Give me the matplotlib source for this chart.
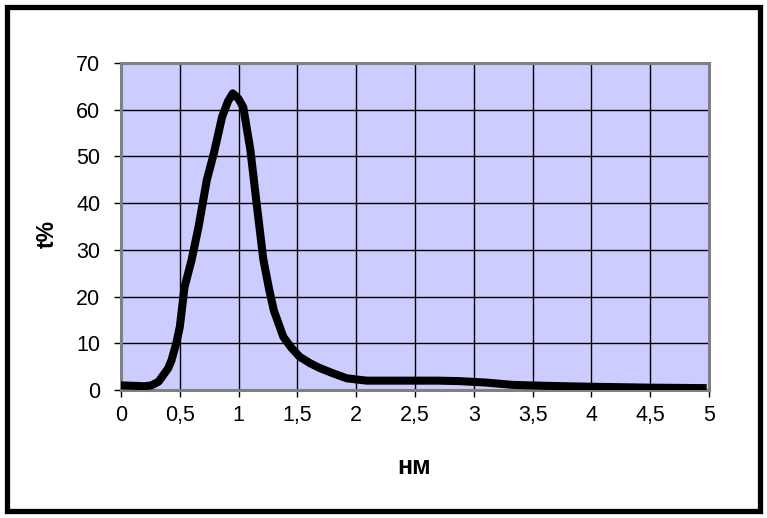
import matplotlib
matplotlib.use("Agg")
import matplotlib.pyplot as plt
from matplotlib.patches import Rectangle
from matplotlib.ticker import MultipleLocator, FuncFormatter

wavelength = [0.0, 0.1, 0.2, 0.26, 0.32, 0.36, 0.40, 0.43, 0.47, 0.50, 0.54, 0.60, 0.66,
              0.73, 0.79, 0.86, 0.91, 0.95, 1.00, 1.04, 1.10, 1.16, 1.21, 1.26, 1.30,
              1.38, 1.45, 1.52, 1.61, 1.69, 1.80, 1.92, 2.09, 2.4, 2.7, 2.88, 3.1,
              3.33, 3.6, 3.99, 4.5, 4.98]
transmission = [1.0, 0.9, 0.8, 1.0, 1.8, 3.2, 4.6, 6.4, 10.0, 13.5, 22.0, 27.8, 35.0,
                45.0, 50.7, 58.5, 61.8, 63.5, 62.3, 60.5, 51.4, 38.5, 28.0, 21.5, 17.0,
                11.4, 9.0, 7.1, 5.7, 4.7, 3.6, 2.5, 2.0, 2.0, 2.0, 1.9, 1.6,
                1.1, 0.9, 0.7, 0.5, 0.4]

x_label = "нм"
y_label = "t%"

fig = plt.figure(figsize=(7.67, 5.18), dpi=100)
plt.rcParams['font.family'] = ['Liberation Sans', 'DejaVu Sans']

ax = fig.add_axes([121/767, 1-390/518, 588/767, 327/518])
ax.set_facecolor('#CCCCFF')
ax.plot(wavelength, transmission, color='black', linewidth=5.8, solid_joinstyle='round',
        solid_capstyle='butt', zorder=3)

ax.set_xlim(0, 5)
ax.set_ylim(0, 70)
ax.xaxis.set_major_locator(MultipleLocator(0.5))
ax.yaxis.set_major_locator(MultipleLocator(10))
ax.xaxis.set_major_formatter(FuncFormatter(lambda v, p: ('%g' % v).replace('.', ',')))
ax.grid(True, color='black', linewidth=1.0, zorder=1)
ax.set_axisbelow(True)
for s in ax.spines.values():
    s.set_color('#808080')
    s.set_linewidth(2.2)
ax.tick_params(axis='both', direction='out', length=5, width=1, color='black',
               labelsize=15.5)
ax.tick_params(axis='y', pad=10)
ax.tick_params(axis='x', pad=6)

fig.text(414/767, 1-467/518, x_label, ha='center', va='center', fontsize=18,
         fontweight='bold')
fig.text(47/767, 1-234/518, y_label, ha='center', va='center', fontsize=16.5,
         fontweight='bold', rotation=90)

fig.patches.append(Rectangle((6.5/767, 1-510.5/518), 753/767, 504/518,
                             transform=fig.transFigure, fill=False,
                             edgecolor='black', linewidth=3.8))

fig.savefig("out.png", dpi=100)
